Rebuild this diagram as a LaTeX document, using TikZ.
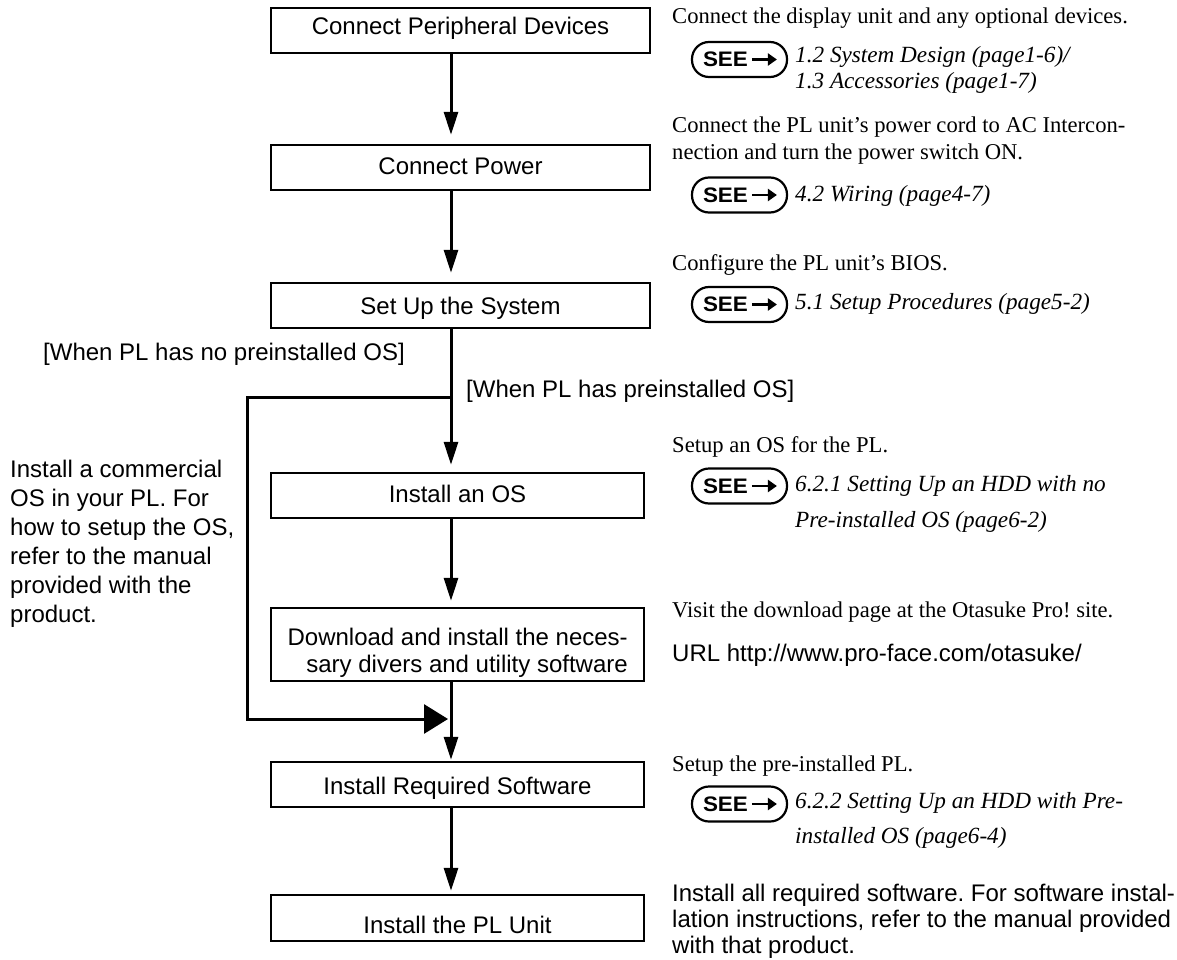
\documentclass[tikz,border=0pt]{standalone}
\usepackage{fontspec}
\setmainfont{Liberation Serif}
\setsansfont{Liberation Sans}
\usetikzlibrary{arrows.meta}
\frenchspacing
\newcommand\fsans{\fontsize{24}{27}\selectfont\sffamily}
\newcommand\fserif{\fontsize{22.6}{27}\selectfont\rmfamily}
\newcommand\fital{\fontsize{23.2}{26}\selectfont\itshape}
\newcommand\seetag{\makebox[95pt][l]{\hspace{11pt}\fontsize{21}{21}\selectfont\sffamily\bfseries\scalebox{1.07}[1]{SEE}}}
\begin{document}
\frenchspacing
\begin{tikzpicture}[x=1pt,y=-1pt,
  procbox/.style={draw, line width=2.4pt, inner sep=0pt, anchor=base, font=\fsans},
  flowarrow/.style={line width=3pt, -{Triangle[length=23pt,width=14pt]}},
  flowline/.style={line width=3pt},
  txt/.style={inner sep=0pt, anchor=base west},
  para/.style={inner sep=0pt, anchor=north west, align=left},
  seebadge/.style={draw, line width=2.2pt, rounded corners=17pt, minimum width=95pt, minimum height=35pt, inner sep=0pt},
  seearrow/.style={line width=2.6pt, -{Triangle[length=9pt,width=12pt]}}
]
\fill[white] (0,0) rectangle (1177,960);
\useasboundingbox (0,0) rectangle (1177,960);

% process boxes
\node[procbox, minimum width=379pt, text height=27pt, text depth=18pt] (b1) at (460.5,35) {Connect Peripheral Devices};
\node[procbox, minimum width=379pt, text height=30pt, text depth=15pt] (b2) at (460.5,175) {Connect Power};
\node[procbox, minimum width=379pt, text height=31pt, text depth=14pt] (b3) at (460.5,314) {Set Up the System};
\node[procbox, minimum width=373pt, text height=29pt, text depth=16pt] (b4) at (457.5,502) {Install an OS};
\node[draw, line width=2.4pt, inner sep=0pt, minimum width=373pt, minimum height=73pt] (b5) at (457.5,644.5) {};
\node[para, anchor=north east, align=right, font=\fsans] (b5t) at (628,626.1) {\strut Download and install the neces-\\sary divers and utility software};
\node[procbox, minimum width=373pt, text height=32pt, text depth=13pt] (b6) at (457.5,794) {Install Required Software};
\node[procbox, minimum width=373pt, text height=38pt, text depth=8pt] (b7) at (457.5,933) {Install the PL Unit};

% connector geometry
\coordinate (ax) at (451,0);
\coordinate (split) at (451,397);
\coordinate (join) at (451,719);
\coordinate (c1) at (247,397);
\coordinate (c2) at (247,719);

\draw[flowarrow, shorten >=9pt] (b1.south -| ax) -- (b2.north -| ax);
\draw[flowarrow, shorten >=9pt] (b2.south -| ax) -- (b3.north -| ax);
\draw[flowarrow, shorten >=7pt] (b3.south -| ax) -- (split) -- (b4.north -| ax);
\draw[flowarrow, shorten >=6pt] (b4.south -| ax) -- (b5.north -| ax);
\draw[flowarrow, shorten >=1pt] (b5.south -| ax) -- (join) -- (b6.north -| ax);
\draw[flowarrow, shorten >=3pt] (b6.south -| ax) -- (b7.north -| ax);
\draw[flowline, line join=miter, -{Triangle[length=24pt,width=29pt]}, shorten >=3pt] (split) -- (c1) -- (c2) -- (join);

% branch labels
\node[txt, font=\fsans] (lab1) at (43,360) {[When PL has no preinstalled OS]};
\node[txt, font=\fsans] (lab2) at (466,397) {[When PL has preinstalled OS]};

% left note
\node[para, font={\fontsize{24}{29}\selectfont\sffamily}] (lnote) at (10,456.7) {\strut Install a commercial\\OS in your PL. For\\how to setup the OS,\\refer to the manual\\provided with the\\product.};

% right-hand notes
\node[txt, font=\fserif] (t1) at (672,24) {Connect the display unit and any optional devices.};
\node[seebadge] (s1) at (739.5,59.5) {\seetag};
\draw[seearrow] ([xshift=61pt]s1.west) -- ([xshift=86pt]s1.west);
\node[para, font=\fital] (r1) at (795,43.8) {\strut 1.2 System Design (page1-6)/\\1.3 Accessories (page1-7)};

\node[para, font=\fserif] (t2) at (672,113.1) {\strut Connect the PL unit’s power cord to AC Intercon-\\nection and turn the power switch ON.};
\node[seebadge] (s2) at (739.5,195) {\seetag};
\draw[seearrow] ([xshift=61pt]s2.west) -- ([xshift=86pt]s2.west);
\node[txt, font=\fital] (r2) at (795,201) {4.2 Wiring (page4-7)};

\node[txt, font=\fserif] (t3) at (672,270) {Configure the PL unit’s BIOS.};
\node[seebadge] (s3) at (739.5,304.5) {\seetag};
\draw[seearrow] ([xshift=61pt]s3.west) -- ([xshift=86pt]s3.west);
\node[txt, font=\fital] (r3) at (795,309) {5.1 Setup Procedures (page5-2)};

\node[txt, font=\fserif] (t4) at (672,452) {Setup an OS for the PL.};
\node[seebadge] (s4) at (739.5,486) {\seetag};
\draw[seearrow] ([xshift=61pt]s4.west) -- ([xshift=86pt]s4.west);
\node[para, font={\fontsize{23.2}{36}\selectfont\itshape}] (r4) at (795,465.8) {\strut 6.2.1 Setting Up an HDD with no\\Pre-installed OS (page6-2)};

\node[txt, font=\fserif] (t5) at (672,617) {Visit the download page at the Otasuke Pro! site.};
\node[txt, font=\fsans] (url) at (672,661) {URL http://www.pro-face.com/otasuke/};

\node[txt, font=\fserif] (t6) at (672,771) {Setup the pre-installed PL.};
\node[seebadge] (s6) at (739.5,804) {\seetag};
\draw[seearrow] ([xshift=61pt]s6.west) -- ([xshift=86pt]s6.west);
\node[para, font={\fontsize{23.2}{35}\selectfont\itshape}] (r6) at (795,783.5) {\strut 6.2.2 Setting Up an HDD with Pre-\\installed OS (page6-4)};

\node[para, font={\fontsize{24}{26}\selectfont\sffamily}] (t7) at (672,882.8) {\strut Install all required software. For software instal-\\lation instructions, refer to the manual provided\\with that product.};
\end{tikzpicture}
\end{document}
